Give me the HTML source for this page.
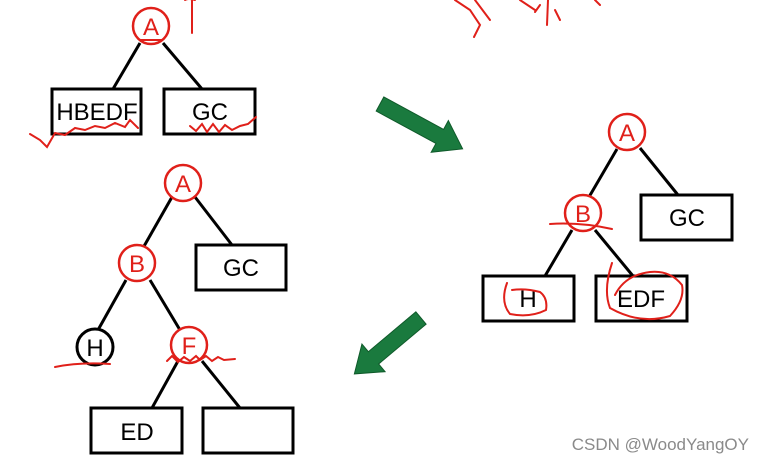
<!DOCTYPE html>
<html><head><meta charset="utf-8"><style>
html,body{margin:0;padding:0;background:#fff;}
svg{display:block;}
text{font-family:"Liberation Sans",sans-serif;}
</style></head><body>
<svg width="766" height="463" viewBox="0 0 766 463" xmlns="http://www.w3.org/2000/svg">
<rect width="766" height="463" fill="#fff"/>
<g stroke="#000" stroke-width="3" fill="none">
<line x1="140" y1="43" x2="113" y2="89"/><line x1="163" y1="43" x2="202" y2="89"/>
<rect x="52" y="89" width="89" height="45"/><rect x="164" y="89" width="91" height="45"/>
<line x1="172" y1="197" x2="143" y2="248"/><line x1="195" y1="197" x2="232" y2="245"/>
<line x1="126" y1="280" x2="98" y2="330"/><line x1="150" y1="280" x2="180" y2="330"/>
<line x1="178" y1="361" x2="152" y2="408"/><line x1="202" y1="361" x2="240" y2="408"/>
<rect x="196" y="245" width="90" height="45"/>
<rect x="91" y="408" width="91" height="45"/><rect x="203" y="408" width="90" height="45"/>
<circle cx="95" cy="347" r="18"/>
<line x1="617" y1="149" x2="589" y2="197"/><line x1="640" y1="148" x2="678" y2="195"/>
<line x1="572" y1="230" x2="545" y2="276"/><line x1="595" y1="230" x2="633" y2="276"/>
<rect x="641" y="195" width="91" height="45"/>
<rect x="483" y="276" width="91" height="45"/><rect x="596" y="276" width="91" height="45"/>
</g>
<g stroke="#e0201a" stroke-width="2.5" fill="#fff">
<circle cx="151" cy="26" r="18"/>
<circle cx="183" cy="183" r="18"/><circle cx="137" cy="263" r="18"/><circle cx="189" cy="345" r="18"/>
<circle cx="627" cy="132" r="18"/><circle cx="583" cy="213" r="18"/>
</g>
<g font-size="24" text-anchor="middle">
<text x="151" y="35" fill="#e0201a">A</text>
<text x="183" y="192" fill="#e0201a">A</text>
<text x="137" y="272" fill="#e0201a">B</text>
<text x="189" y="354" fill="#e0201a">F</text>
<text x="627" y="141" fill="#e0201a">A</text>
<text x="583" y="222" fill="#e0201a">B</text>
<text x="97" y="120">HBEDF</text><text x="210" y="120">GC</text>
<text x="241" y="276">GC</text><text x="95" y="356">H</text><text x="137" y="440">ED</text>
<text x="687" y="226">GC</text><text x="528" y="307">H</text><text x="641" y="307">EDF</text>
</g>
<g fill="#1a7a3e" stroke="#0f5a2a" stroke-width="1">
<polygon transform="translate(380,104) rotate(28.5)" points="0,-8 68,-8 68,-18 94,0 68,18 68,8 0,8"/>
<polygon transform="translate(421,318) rotate(140)" points="0,-8 62,-8 62,-18 87,0 62,18 62,8 0,8"/>
</g>
<g stroke="#e0201a" stroke-width="2" fill="none" stroke-linecap="round">
<path d="M192,0 L192,33 M185,0 Q188,-2 195,0"/>
<path d="M30,134 L40,140 L47,147 L55,133 L65,135 L75,128 L85,130 L95,126 L105,128 L115,123 L125,127 L130,120 L138,128"/>
<path d="M190,126 L196,131 L202,124 L207,132 L213,124 L219,132 L225,125 L232,130 L240,126 L248,124 L256,117"/>
<path d="M140,40 L162,40"/>
<path d="M455,0 L470,10 L480,25 L474,37 M475,0 L490,20 M520,0 L535,10 M548,0 L547,25 M540,5 L535,12 M555,10 L560,20 M595,0 L600,5"/>
<path d="M55,367 Q80,362 110,364"/>
<path d="M167,361 L172,356 L178,362 L184,357 L190,361 L196,356 L200,360 L206,356 L212,361 L218,357 L224,360 L235,359"/>
<path d="M550,224 Q580,222 612,229"/>
<path d="M507,283 Q500,302 510,314 Q530,318 546,310 Q548,298 540,292 Q525,288 512,290"/>
<path d="M612,263 Q603,290 610,308 Q640,325 670,316 Q685,300 682,285 Q670,270 650,272 Q625,275 615,295"/>
</g>
<text x="749" y="450" font-size="17" fill="#8a8a8a" text-anchor="end">CSDN @WoodYangOY</text>
</svg>
</body></html>
